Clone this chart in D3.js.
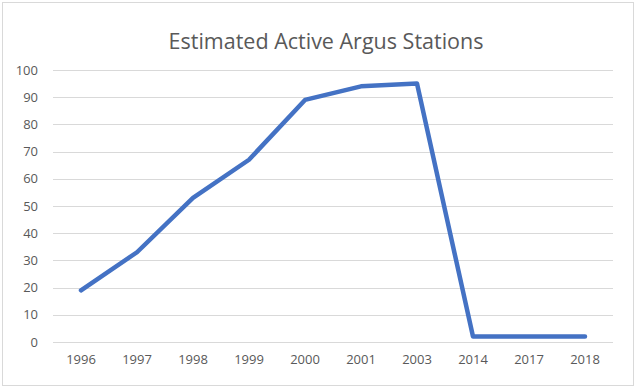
<!DOCTYPE html>
<html>
<head>
<meta charset="utf-8">
<script src="https://cdn.jsdelivr.net/npm/d3@7"></script>
<style>
  body { margin: 0; background: #fff; }
  svg { display: block; }
</style>
</head>
<body>
<div id="chart"></div>
<script>
// chart data
var years = ["1996", "1997", "1998", "1999", "2000", "2001", "2003", "2014", "2017", "2018"];
var stations = [19, 33, 53, 67, 89, 94, 95, 2, 2, 2];
var yTicks = [0, 10, 20, 30, 40, 50, 60, 70, 80, 90, 100];

var w = 636, h = 388;
// plot area edges (note: "top" is a reserved window global)
var plotLeft = 53, plotRight = 613, plotTop = 70, plotBottom = 342;
var font = "'Open Sans', 'Liberation Sans', sans-serif";

var svg = d3.select("#chart").append("svg")
  .attr("width", w)
  .attr("height", h);

// outer frame
svg.append("rect")
  .attr("x", 2.5).attr("y", 2.5)
  .attr("width", w - 5).attr("height", h - 5)
  .attr("fill", "#fff")
  .attr("stroke", "#d9d9d9");

var x = d3.scaleBand().domain(years).range([plotLeft, plotRight]);
var y = d3.scaleLinear().domain([0, 100]).range([plotBottom, plotTop]);

// gridlines
svg.append("g").selectAll("line")
  .data(yTicks)
  .enter().append("line")
  .attr("x1", plotLeft).attr("x2", plotRight)
  .attr("y1", function (d) { return Math.round(y(d)) + 0.5; })
  .attr("y2", function (d) { return Math.round(y(d)) + 0.5; })
  .attr("stroke", "#d9d9d9");

// y axis labels
var yAxis = d3.axisLeft(y).tickValues(yTicks).tickSize(0).tickPadding(15);
svg.append("g")
  .attr("transform", "translate(" + plotLeft + ",0)")
  .call(yAxis)
  .call(function (g) { g.select(".domain").remove(); })
  .selectAll("text")
  .style("font-family", font)
  .style("font-size", "13px")
  .attr("fill", "#595959");

// x axis labels
var xAxis = d3.axisBottom(x).tickSize(0).tickPadding(13);
svg.append("g")
  .attr("transform", "translate(0," + plotBottom + ")")
  .call(xAxis)
  .call(function (g) { g.select(".domain").remove(); })
  .selectAll("text")
  .style("font-family", font)
  .style("font-size", "13px")
  .attr("fill", "#595959");

// line
var pts = years.map(function (yr, i) { return { year: yr, value: stations[i] }; });
svg.append("path")
  .datum(pts)
  .attr("fill", "none")
  .attr("stroke", "#4472c4")
  .attr("stroke-width", 4.5)
  .attr("stroke-linejoin", "round")
  .attr("stroke-linecap", "round")
  .attr("d", d3.line()
    .x(function (d) { return x(d.year) + x.bandwidth() / 2; })
    .y(function (d) { return y(d.value); }));

// title
svg.append("text")
  .attr("x", 326)
  .attr("y", 49)
  .attr("text-anchor", "middle")
  .style("font-family", font)
  .style("font-size", "21.5px")
  .attr("fill", "#595959")
  .text("Estimated Active Argus Stations");
</script>
</body>
</html>
